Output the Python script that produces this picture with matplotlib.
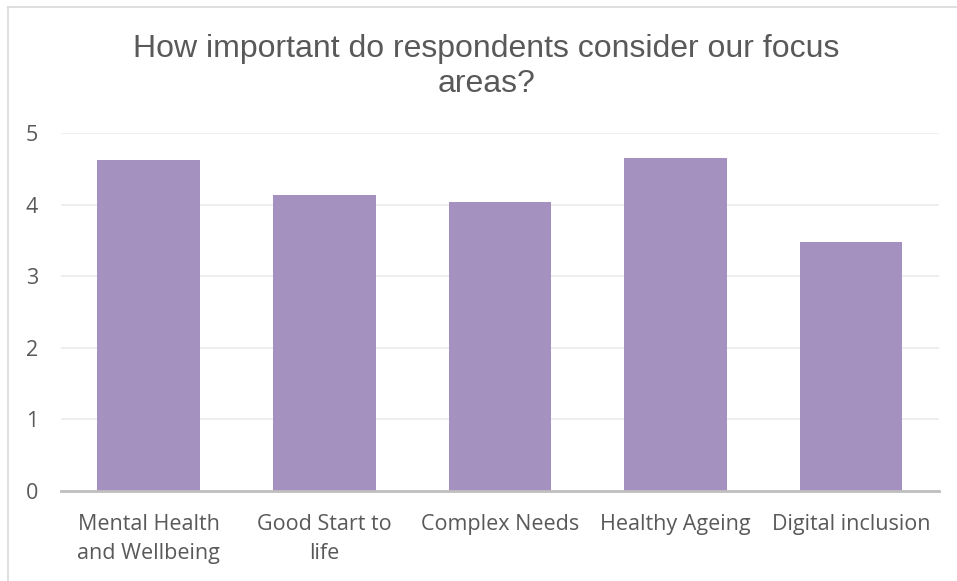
# Bar chart of focus area importance ratings

import numpy as np
from matplotlib import pyplot as plt
from matplotlib.lines import Line2D

categories = ['Mental Health\nand Wellbeing', 'Good Start to\nlife', 'Complex Needs',
              'Healthy Ageing', 'Digital inclusion']
scores = [4.63, 4.13, 4.04, 4.65, 3.47]
yticks = [0, 1, 2, 3, 4, 5]

text_col = '#595959'
bar_col = '#A491BF'

fig = plt.figure(figsize=(9.57, 5.81), dpi=100)
ax = fig.add_axes([0.0637, 0.1554, 0.9173, 0.6156])

x = np.arange(len(categories))
ax.bar(x, scores, width=0.585, color=bar_col, zorder=2)

ax.set_xlim(-0.5, len(categories) - 0.5)
ax.set_ylim(0, 5)
ax.set_yticks(yticks)
ax.set_xticks(x)
ax.set_xticklabels(categories, fontsize=15.5, color=text_col, family='Open Sans',
                   linespacing=1.5)
ax.set_yticklabels([str(t) for t in yticks], fontsize=15.5, color=text_col, family='Open Sans')
ax.tick_params(axis='both', length=0)
ax.tick_params(axis='x', pad=17)
ax.tick_params(axis='y', pad=16.5)

ax.grid(axis='y', color='#EBEBEB', linewidth=1.2, zorder=0)
for s in ['top', 'right', 'left']:
    ax.spines[s].set_visible(False)
ax.spines['bottom'].set_color('#BFBFBF')
ax.spines['bottom'].set_linewidth(2)
ax.spines['bottom'].set_zorder(3)

fig.text(0.508, 0.886, 'How important do respondents consider our focus\nareas?',
         ha='center', va='center', fontsize=23, color=text_col,
         family='Liberation Sans', linespacing=1.2)

# outer border of the chart area (left and top edges)
fig.add_artist(Line2D([8/957, 8/957], [0, 1 - 7/581], color='#D9D9D9', linewidth=1.2))
fig.add_artist(Line2D([8/957, 1], [1 - 7/581, 1 - 7/581], color='#D9D9D9', linewidth=1.2))

plt.savefig('out.png', dpi=100)
